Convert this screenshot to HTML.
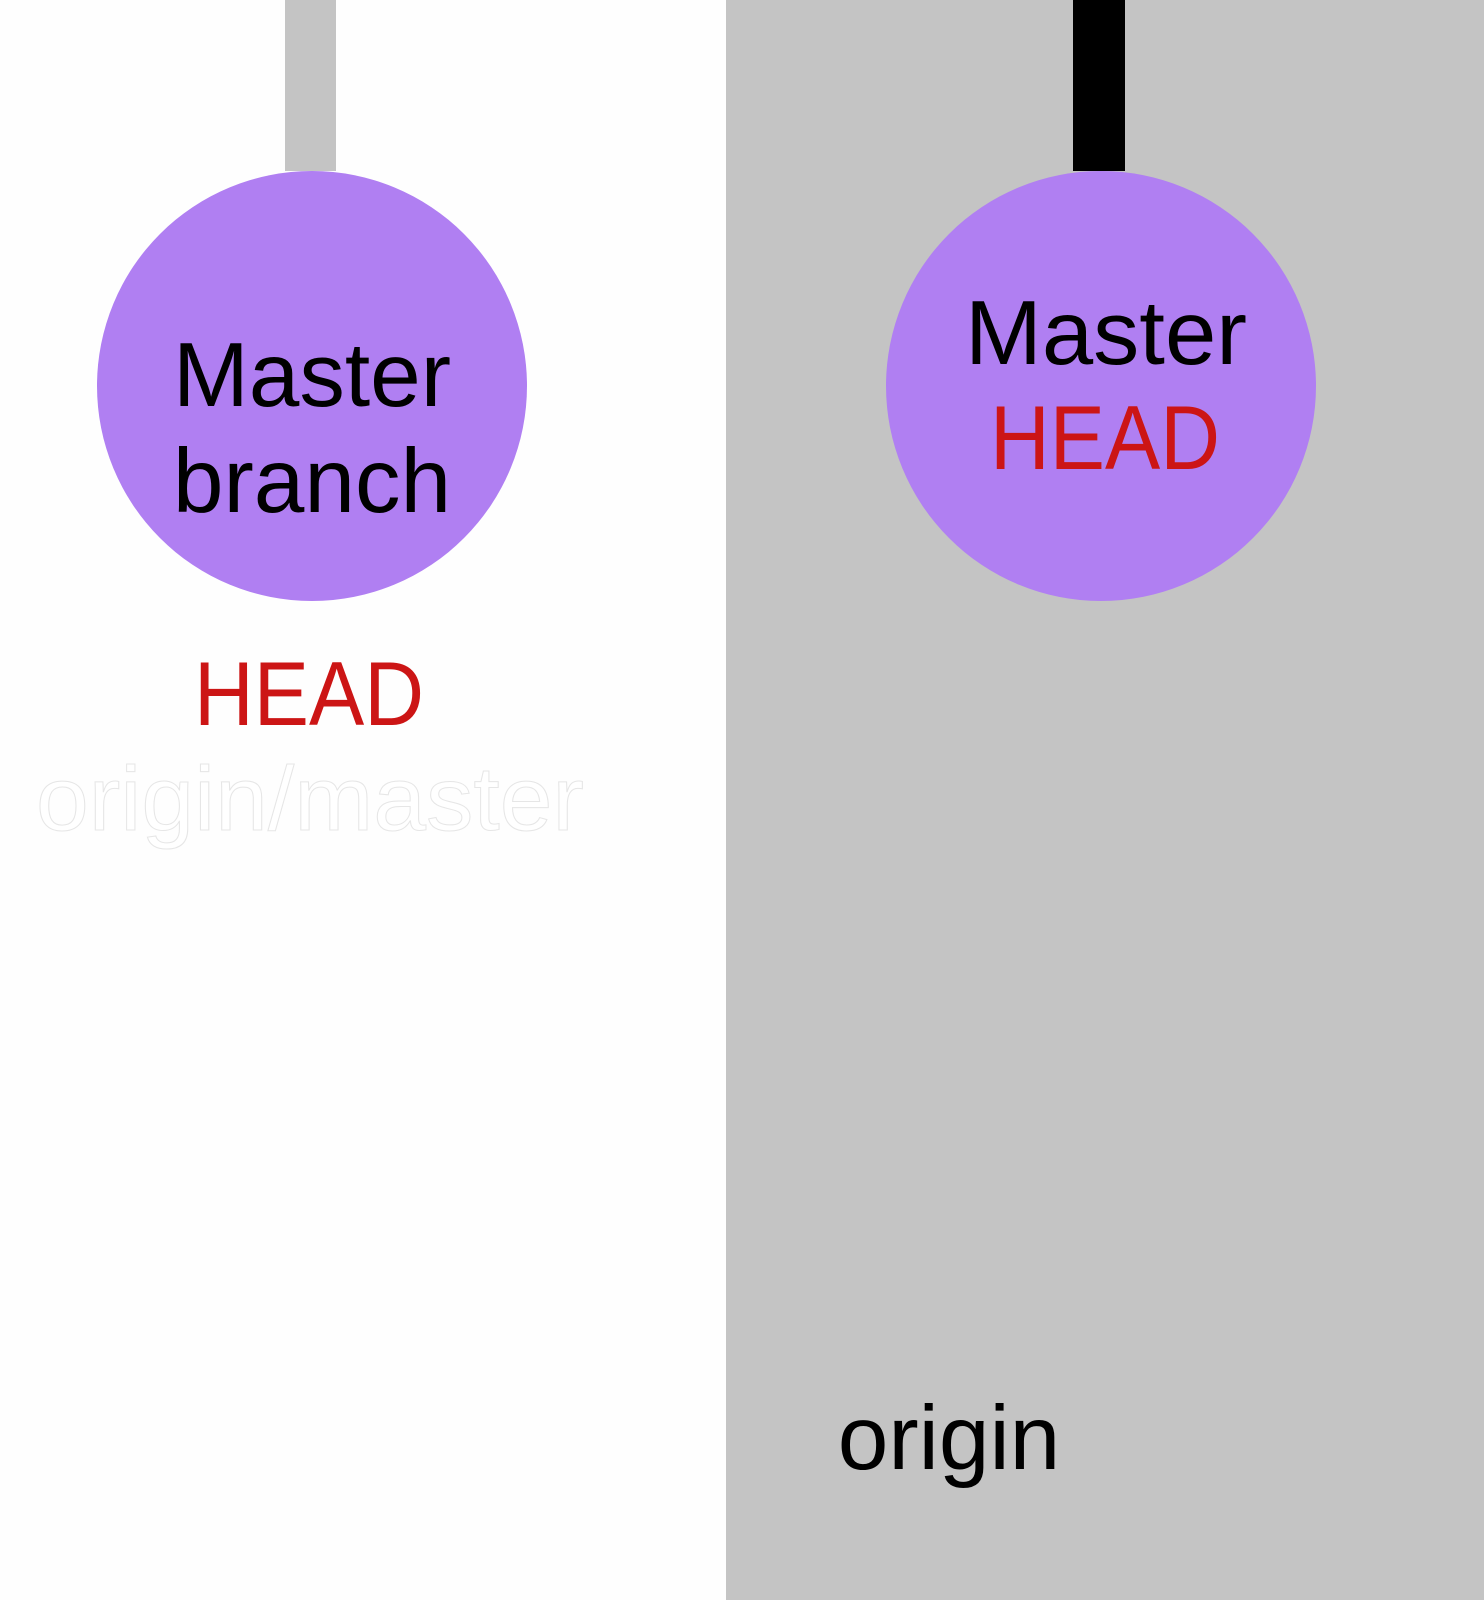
<!DOCTYPE html>
<html><head><meta charset="utf-8"><style>
html,body{margin:0;padding:0;background:#fff;}
svg{display:block;}
text{font-family:"Liberation Sans",sans-serif;font-size:91px;}
</style></head><body>
<svg width="1484" height="1600" viewBox="0 0 1484 1600" xmlns="http://www.w3.org/2000/svg">
<rect x="0" y="0" width="726" height="1600" fill="#fefefe"/>
<rect x="726" y="0" width="758" height="1600" fill="#c4c4c4"/>
<rect x="285" y="0" width="51" height="171" fill="#c4c4c4"/>
<rect x="1073" y="0" width="52" height="171" fill="#000"/>
<circle cx="312" cy="386" r="215" fill="#b07ff2"/>
<circle cx="1101" cy="386" r="215" fill="#b07ff2"/>
<text x="312" y="406" text-anchor="middle" fill="#000">Master</text>
<text x="312" y="512" text-anchor="middle" fill="#000">branch</text>
<text x="1106" y="364" text-anchor="middle" fill="#000" textLength="282" lengthAdjust="spacingAndGlyphs">Master</text>
<text x="1105" y="469" text-anchor="middle" fill="#cc1515" textLength="230" lengthAdjust="spacingAndGlyphs">HEAD</text>
<text x="309" y="725" text-anchor="middle" fill="#cc1515" textLength="230" lengthAdjust="spacingAndGlyphs">HEAD</text>
<text x="310" y="830" text-anchor="middle" fill="#fff" stroke="#e6e6e6" stroke-width="1" textLength="548" lengthAdjust="spacingAndGlyphs">origin/master</text>
<text x="949" y="1469" text-anchor="middle" fill="#000">origin</text>
</svg>
</body></html>
